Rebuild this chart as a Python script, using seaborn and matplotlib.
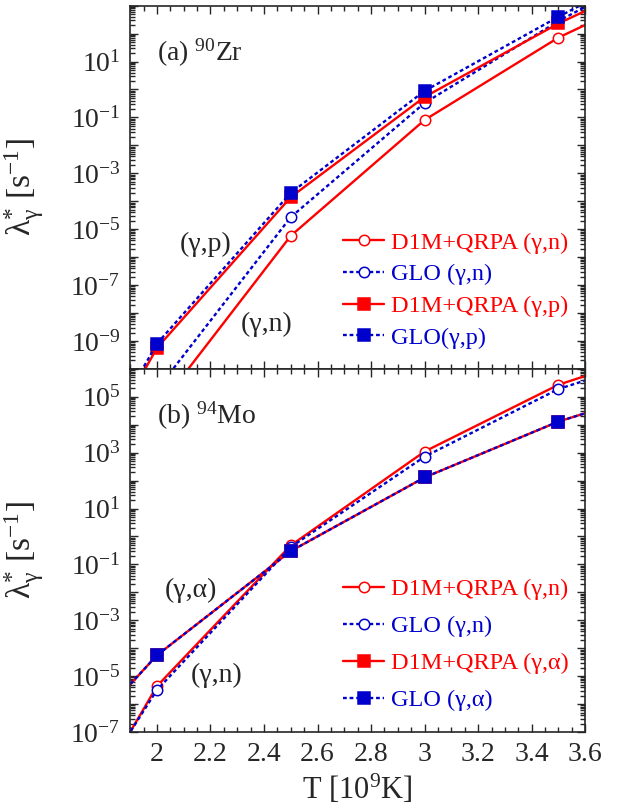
import numpy as np
import pandas as pd
import matplotlib
matplotlib.use('Agg')
import matplotlib.pyplot as plt
import matplotlib.ticker as mticker
import seaborn as sns

# temperatures (10^9 K); 1.5 and 4.0 only carry the lines past the frame
T = [1.5, 2.0, 2.5, 3.0, 3.5, 4.0]

# (a) 90Zr
zr_d1m_n = [2.5e-18, 3.5e-12, 5.8e-6, 8.1e-2, 72.0, 1.3e4]
zr_glo_n = [1.3e-17, 1.8e-11, 2.7e-5, 0.33, 280.0, 1.0e5]
zr_d1m_p = [1.6e-18, 5.6e-10, 1.4e-4, 0.54, 230.0, 4.0e4]
zr_glo_p = [3.0e-18, 8.0e-10, 2.0e-4, 0.89, 400.0, 1.3e5]

# (b) 94Mo
mo_d1m_n = [2.8e-14, 4.4e-6, 0.48, 1.1e3, 2.7e5, 1.0e7]
mo_glo_n = [1.0e-13, 3.2e-6, 0.42, 720.0, 1.9e5, 6.3e6]
mo_d1m_a = [3.5e-10, 5.6e-5, 0.30, 130.0, 1.3e4, 4.0e5]
mo_glo_a = [3.5e-10, 5.6e-5, 0.30, 130.0, 1.3e4, 4.0e5]

RED = '#ff0000'
BLUE = '#0000cc'
DOT = (0, (1.6, 1.2))

sns.set_style('ticks')
plt.rcParams['font.family'] = 'serif'
plt.rcParams['font.serif'] = ['Liberation Serif', 'DejaVu Serif']
plt.rcParams['mathtext.fontset'] = 'stix'
plt.rcParams['mathtext.default'] = 'regular'
plt.rcParams['axes.unicode_minus'] = False

fig, axs = plt.subplots(2, 1, figsize=(6.32, 8.08), dpi=100, sharex=True)
fig.subplots_adjust(left=0.206, right=0.926, top=0.993, bottom=0.094, hspace=0)


def series(ax, y, col, ls, mk, face, label):
    df = pd.DataFrame({'T': T, 'rate': y})
    sns.lineplot(data=df, x='T', y='rate', ax=ax, color=col, linestyle=ls, lw=1.7,
                 marker=mk, markersize=8 if mk == 's' else 7.5,
                 markerfacecolor=face, markeredgecolor=col, markeredgewidth=1.1,
                 label=label, legend=False)


def make_fmt(top):
    def log_fmt(v, pos):
        e = int(round(np.log10(v)))
        if e % 2 == 0 or e >= top:
            return ''
        return r'$\mathdefault{10^{%d}}$' % e
    return log_fmt


panels = [
    (axs[0], [(zr_d1m_n, RED, '-', 'o', 'white', 'D1M+QRPA (γ,n)'),
              (zr_glo_n, BLUE, DOT, 'o', 'white', 'GLO (γ,n)'),
              (zr_d1m_p, RED, '-', 's', RED, 'D1M+QRPA (γ,p)'),
              (zr_glo_p, BLUE, DOT, 's', BLUE, 'GLO(γ,p)')],
     (1e-10, 1e3), r'(a) $^{90}$Zr', 0.378, 0.40),
    (axs[1], [(mo_d1m_n, RED, '-', 'o', 'white', 'D1M+QRPA (γ,n)'),
              (mo_glo_n, BLUE, DOT, 'o', 'white', 'GLO (γ,n)'),
              (mo_d1m_a, RED, '-', 's', RED, 'D1M+QRPA (γ,α)'),
              (mo_glo_a, BLUE, DOT, 's', BLUE, 'GLO (γ,α)')],
     (1e-7, 1e6), r'(b) $^{94}$Mo', 0.424, 0.62),
]

for ax, lines, ylim, tag, legy, lsp in panels:
    for y, col, ls, mk, face, lab in lines:
        series(ax, y, col, ls, mk, face, lab)
    ax.set_yscale('log')
    ax.set_ylim(*ylim)
    ax.set_xlim(1.9, 3.6)
    ax.yaxis.set_major_locator(mticker.LogLocator(base=10, numticks=30))
    ax.yaxis.set_minor_locator(mticker.LogLocator(base=10, subs=np.arange(2, 10), numticks=30))
    ax.yaxis.set_major_formatter(mticker.FuncFormatter(make_fmt(int(np.log10(ylim[1])))))
    ax.yaxis.set_minor_formatter(mticker.NullFormatter())
    ax.xaxis.set_major_locator(mticker.MultipleLocator(0.2))
    ax.xaxis.set_minor_locator(mticker.MultipleLocator(0.05))
    ax.xaxis.set_major_formatter(mticker.FuncFormatter(lambda v, p: f'{v:g}'))
    ax.tick_params(which='both', direction='in', top=True, right=True, labelsize=20, width=1.0, pad=7)
    ax.tick_params(which='major', length=6)
    ax.tick_params(which='minor', length=3.5)
    for sp in ax.spines.values():
        sp.set_linewidth(1.2)
    ax.set_ylabel(r'λ$^{*}_{\gamma}$ [s$^{-1}$]', fontsize=24)
    ax.yaxis.set_label_coords(-0.185, 0.5)
    ax.set_xlabel('')
    ax.text(0.06, 0.87, tag, transform=ax.transAxes, fontsize=20, va='center')
    cols = [l[1] for l in lines]
    ax.legend(loc='upper left', bbox_to_anchor=(0.468, legy), frameon=False, fontsize=17.5,
              handlelength=1.7, handletextpad=0.25, labelspacing=lsp, borderpad=0,
              borderaxespad=0, labelcolor=cols)

axs[0].tick_params(labelbottom=False)
axs[0].text(0.11, 0.342, '(γ,p)', transform=axs[0].transAxes, fontsize=20, va='center')
axs[0].text(0.242, 0.121, '(γ,n)', transform=axs[0].transAxes, fontsize=20, va='center')
axs[1].text(0.077, 0.391, '(γ,α)', transform=axs[1].transAxes, fontsize=20, va='center')
axs[1].text(0.132, 0.157, '(γ,n)', transform=axs[1].transAxes, fontsize=20, va='center')
axs[1].set_xlabel(r'T [10$^{9}$K]', fontsize=22, labelpad=4)

plt.savefig('out.png', dpi=100)
